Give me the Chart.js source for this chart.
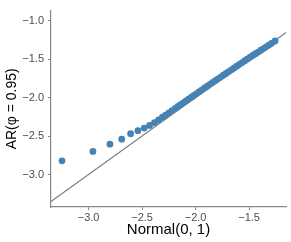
<!DOCTYPE html>
<html lang="en">
<head>
    <meta charset="UTF-8">
    <title>QQ plot AR vs Normal</title>
    <script src="https://cdn.jsdelivr.net/npm/chart.js@4.4.1/dist/chart.umd.min.js"></script>
    <style>
        html, body { margin: 0; padding: 0; background: #fff; }
        canvas { display: block; }
    </style>
</head>
<body>
    <canvas id="qq" width="291" height="242"></canvas>
    <script>
        // theoretical quantiles (sample tail) and observed quantiles
        var normalQ = [-3.248, -2.959, -2.80, -2.69, -2.607, -2.539, -2.480, -2.430, -2.384, -2.346,
            -2.31, -2.28, -2.25, -2.22, -2.19, -2.165, -2.14, -2.115, -2.09, -2.065,
            -2.04, -2.015, -1.99, -1.965, -1.94, -1.915, -1.89, -1.865, -1.84, -1.815,
            -1.79, -1.765, -1.74, -1.715, -1.69, -1.665, -1.64, -1.615, -1.59, -1.565,
            -1.54, -1.515, -1.49, -1.465, -1.44, -1.415, -1.39, -1.365, -1.34, -1.315,
            -1.29, -1.257];
        var arQ = [-2.821, -2.70, -2.605, -2.54, -2.47, -2.43, -2.396, -2.362, -2.325, -2.29,
            -2.256, -2.227, -2.198, -2.169, -2.140, -2.116, -2.092, -2.068, -2.044, -2.020,
            -1.996, -1.972, -1.948, -1.924, -1.900, -1.876, -1.852, -1.828, -1.804, -1.781,
            -1.757, -1.734, -1.710, -1.687, -1.663, -1.640, -1.616, -1.593, -1.569, -1.546,
            -1.522, -1.499, -1.476, -1.454, -1.431, -1.409, -1.386, -1.364, -1.341, -1.319,
            -1.296, -1.266];

        var xTicks = [-3.0, -2.5, -2.0, -1.5];
        var yTicks = [-3.0, -2.5, -2.0, -1.5, -1.0];
        var xRange = [-3.351, -1.155];
        var yRange = [-3.421, -0.871];

        var axisGray = '#888888';
        var labelGray = '#4d4d4d';

        Chart.defaults.font.family = "'Liberation Sans', Arial, sans-serif";

        function fmt(v) {
            var s = Math.abs(v).toFixed(1);
            return v < 0 ? '\u2212' + s : s;
        }

        var points = normalQ.map(function (x, i) { return { x: x, y: arQ[i] }; });
        // identity reference line across the panel
        var refLine = xRange.map(function (x) { return { x: x, y: x }; });

        new Chart(document.getElementById('qq'), {
            type: 'scatter',
            data: {
                datasets: [
                    {
                        data: points,
                        backgroundColor: '#4682b4',
                        borderWidth: 0,
                        pointRadius: 3.4,
                        order: 0
                    },
                    {
                        type: 'line',
                        data: refLine,
                        borderColor: '#7f7f7f',
                        borderWidth: 1.2,
                        pointRadius: 0,
                        fill: false,
                        order: 1
                    }
                ]
            },
            options: {
                responsive: false,
                devicePixelRatio: 1,
                animation: false,
                layout: { padding: { top: 3, right: 5, left: 0, bottom: 0 } },
                plugins: { legend: { display: false }, tooltip: { enabled: false } },
                scales: {
                    x: {
                        type: 'linear',
                        min: xRange[0],
                        max: xRange[1],
                        afterBuildTicks: function (s) { s.ticks = xTicks.map(function (v) { return { value: v }; }); },
                        afterFit: function (s) { s.height = 35; },
                        ticks: { font: { size: 11 }, color: labelGray, padding: 1, callback: fmt },
                        grid: { drawOnChartArea: false, drawTicks: true, tickLength: 3, color: axisGray },
                        border: { display: true, color: axisGray, width: 1.2 },
                        title: { display: true, text: 'Normal(0, 1)', color: '#000', font: { size: 15 }, padding: { top: 0, bottom: 3 } }
                    },
                    y: {
                        type: 'linear',
                        min: yRange[0],
                        max: yRange[1],
                        afterBuildTicks: function (s) { s.ticks = yTicks.map(function (v) { return { value: v }; }); },
                        afterFit: function (s) { s.width = 51; },
                        ticks: { font: { size: 11 }, color: labelGray, padding: 4, callback: fmt },
                        grid: { drawOnChartArea: false, drawTicks: true, tickLength: 3, color: axisGray },
                        border: { display: true, color: axisGray, width: 1.2 },
                        title: { display: true, text: 'AR(\u03c6 = 0.95)', color: '#000', font: { size: 14 }, padding: { top: 4, bottom: 0 } }
                    }
                }
            }
        });
    </script>
</body>
</html>
